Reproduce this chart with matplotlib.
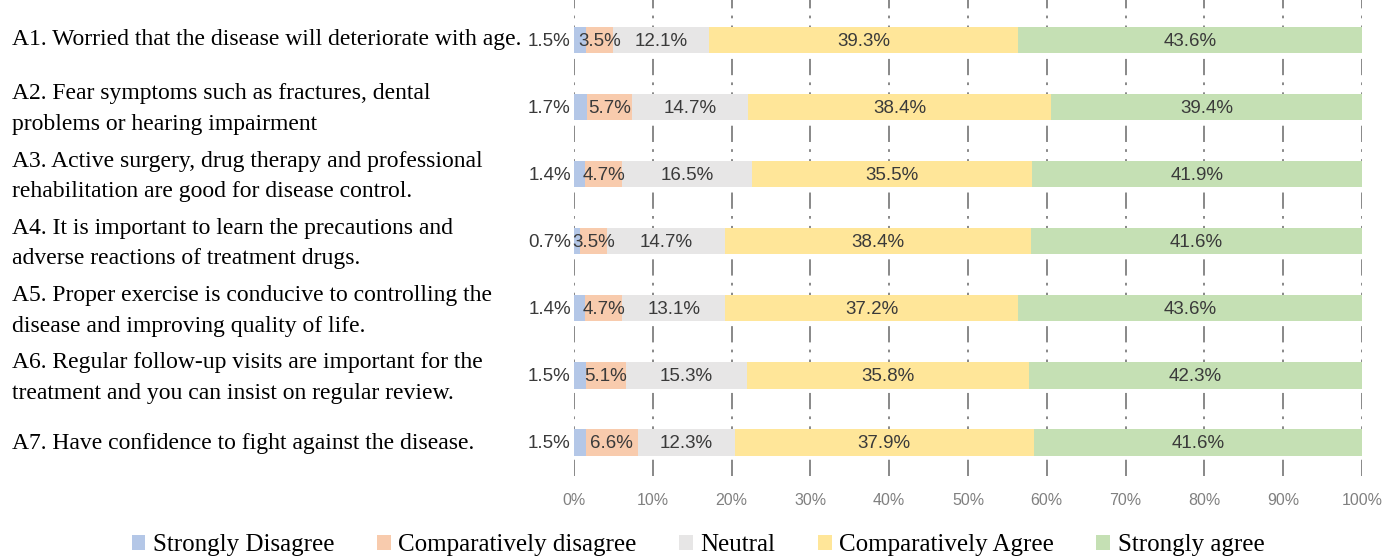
import matplotlib
matplotlib.use("Agg")
import matplotlib.pyplot as plt
from matplotlib.patches import Patch
import numpy as np

questions = [
    "A1. Worried that the disease will deteriorate with age.",
    "A2. Fear symptoms such as fractures, dental\nproblems or hearing impairment",
    "A3. Active surgery, drug therapy and professional\nrehabilitation are good for disease control.",
    "A4. It is important to learn the precautions and\nadverse reactions of treatment drugs.",
    "A5. Proper exercise is conducive to controlling the\ndisease and improving quality of life.",
    "A6. Regular follow-up visits are important for the\ntreatment and you can insist on regular review.",
    "A7. Have confidence to fight against the disease.",
]
categories = ["Strongly Disagree", "Comparatively disagree", "Neutral",
              "Comparatively Agree", "Strongly agree"]
strongly_disagree = [1.5, 1.7, 1.4, 0.7, 1.4, 1.5, 1.5]
comparatively_disagree = [3.5, 5.7, 4.7, 3.5, 4.7, 5.1, 6.6]
neutral = [12.1, 14.7, 16.5, 14.7, 13.1, 15.3, 12.3]
comparatively_agree = [39.3, 38.4, 35.5, 38.4, 37.2, 35.8, 37.9]
strongly_agree = [43.6, 39.4, 41.9, 41.6, 43.6, 42.3, 41.6]
xticks = [0, 10, 20, 30, 40, 50, 60, 70, 80, 90, 100]

colors = ["#B4C7E7", "#F8CBAD", "#E7E6E6", "#FFE699", "#C5E0B4"]
series = [strongly_disagree, comparatively_disagree, neutral,
          comparatively_agree, strongly_agree]

fig = plt.figure(figsize=(13.96, 5.6), dpi=100)
ax = fig.add_axes([574 / 1396, 1 - 476 / 560, (1362 - 574) / 1396, 476 / 560])

y = np.arange(len(questions))
data = np.array(series, dtype=float)
totals = data.sum(axis=0)
pct = data / totals * 100

for xv in xticks:
    ax.axvline(xv, color="#7F7F7F", lw=1.3, linestyle=(0, (9, 4, 1.5, 4)), zorder=0)

left = np.zeros(len(questions))
for i, (vals, c) in enumerate(zip(pct, colors)):
    ax.barh(y, vals, left=left, height=0.39, color=c, label=categories[i], zorder=2)
    for j in range(len(questions)):
        lab = f"{data[i][j]:.1f}%"
        if i == 0:
            ax.text(-0.4, y[j] + 0.02, lab, ha="right", va="center", fontsize=13.5,
                    color="#3A3A3A", family="Liberation Sans", zorder=3)
        else:
            ax.text(left[j] + vals[j] / 2, y[j] + 0.02, lab, ha="center", va="center",
                    fontsize=13.5, color="#3A3A3A", family="Liberation Sans", zorder=3)
    left += vals

ax.set_xlim(0, 100)
ax.set_ylim(6.5, -0.6)
ax.set_xticks(xticks)
ax.set_xticklabels([f"{v}%" for v in xticks], fontsize=11.5, color="#808080",
                   family="Liberation Sans")
ax.tick_params(axis="x", length=0, pad=12)
ax.set_yticks([])
for s in ax.spines.values():
    s.set_visible(False)

for j, q in enumerate(questions):
    yc = 1 - (40 + 67.2 * j) / 560
    if "\n" in q:
        yc -= 2 / 560
    fig.text(12 / 1396, yc, q, ha="left", va="center", fontsize=17,
             family="Liberation Serif", color="black", linespacing=1.6)

handles = [Patch(facecolor=c, edgecolor="none") for c in colors]
fig.legend(handles, categories, loc="center", bbox_to_anchor=(0.5, 1 - 545 / 560),
           ncol=5, frameon=False, prop={"family": "Liberation Serif", "size": 18},
           handlelength=0.55, handleheight=0.55, handletextpad=0.3, columnspacing=1.7)

fig.savefig("out.png", dpi=100)
